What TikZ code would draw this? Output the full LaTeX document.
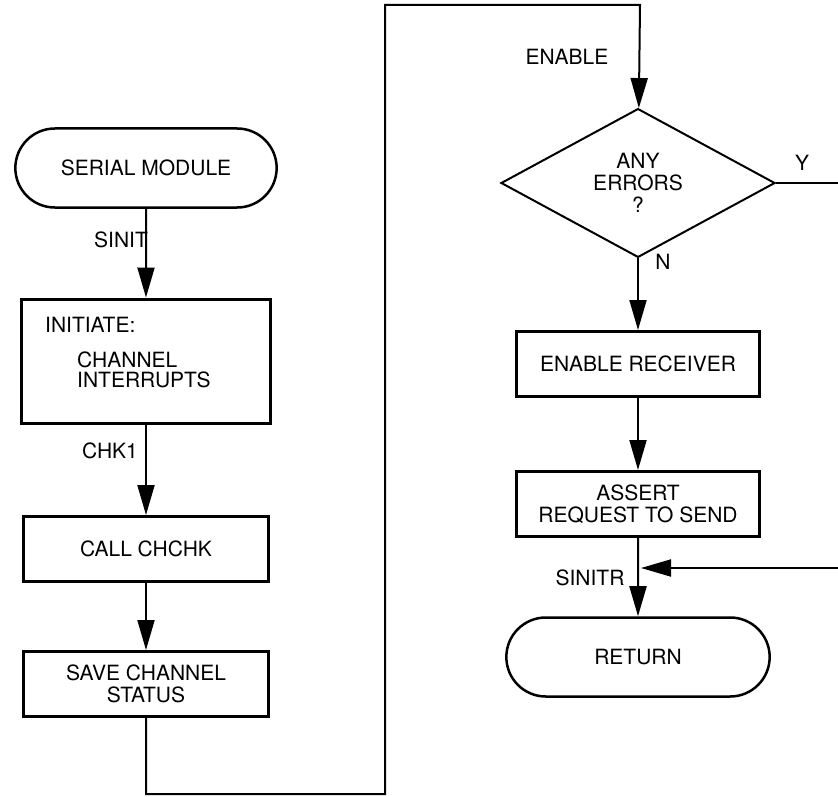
\documentclass[tikz,border=0pt]{standalone}
\usepackage{fontspec}
\setmainfont{TeX Gyre Heros}
\usetikzlibrary{shapes.geometric,shapes.misc,arrows.meta,positioning}

\begin{document}
\begin{tikzpicture}[
    x=1pt, y=-1pt,
    every node/.style={font=\fontsize{21}{22}\selectfont},
    term/.style={rounded rectangle, draw, line width=2.5pt, minimum width=268pt, minimum height=79pt},
    proc/.style={rectangle, draw, line width=3pt, minimum width=245pt, minimum height=65pt, align=center},
    test/.style={diamond, draw, line width=2pt, minimum width=274pt, minimum height=109pt, inner sep=0pt, align=center},
    flow/.style={line width=2pt, -{Triangle[length=30pt,width=17pt]}},
    wire/.style={line width=2pt}
]
    \useasboundingbox (0,0) rectangle (838,797);

    % left column
    \node[term] (serial) at (146,168) {SERIAL MODULE};
    \node[proc, minimum width=249pt, minimum height=124pt] (init) at (146,361) {};
    \node[anchor=base west, inner sep=0pt] (initA) at (45,332) {INITIATE:};
    \node[anchor=base west, inner sep=0pt, align=left] (initB) at (77,387) {CHANNEL\\[-2pt]INTERRUPTS};
    \node[proc] (call) at (146,549) {CALL CHCHK};
    \node[proc] (save) at (146,684) {SAVE CHANNEL\\STATUS};

    % right column
    \node[test] (errs) at (638,183) {ANY\\ERRORS\\?};
    \node[proc, minimum width=243pt] (enrx) at (638,364) {ENABLE RECEIVER};
    \node[proc, minimum width=243pt] (rts) at (638,504) {ASSERT\\REQUEST TO SEND};
    \node[term, minimum width=270pt] (ret) at (638,657) {RETURN};

    % labels
    \node (sinit) at (121,240) {SINIT};
    \node (chk1) at (110,451) {CHK1};
    \node (enable) at (567,57) {ENABLE};
    \node (yes) at (802,163) {Y};
    \node (no) at (663,262) {N};
    \node (sinitr) at (590,578) {SINITR};

    \coordinate (loopB) at (385,794);
    \coordinate (loopT) at (640,5);
    \coordinate (yout) at (838,183);
    \coordinate (back) at (838,568);
    \coordinate (merge) at (641,568);

    \draw[flow] (serial) -- (init);
    \draw[flow] (init) -- (call);
    \draw[flow] (call) -- (save);
    \draw[flow] (save) |- (loopB) |- (loopT) -- (errs);
    \draw[flow] (errs) -- (enrx);
    \draw[wire] (errs) -- (yout);
    \draw[flow] (enrx) -- (rts);
    \draw[flow] (rts) -- (ret);
    \draw[flow] (back) -- (merge);
\end{tikzpicture}
\end{document}
